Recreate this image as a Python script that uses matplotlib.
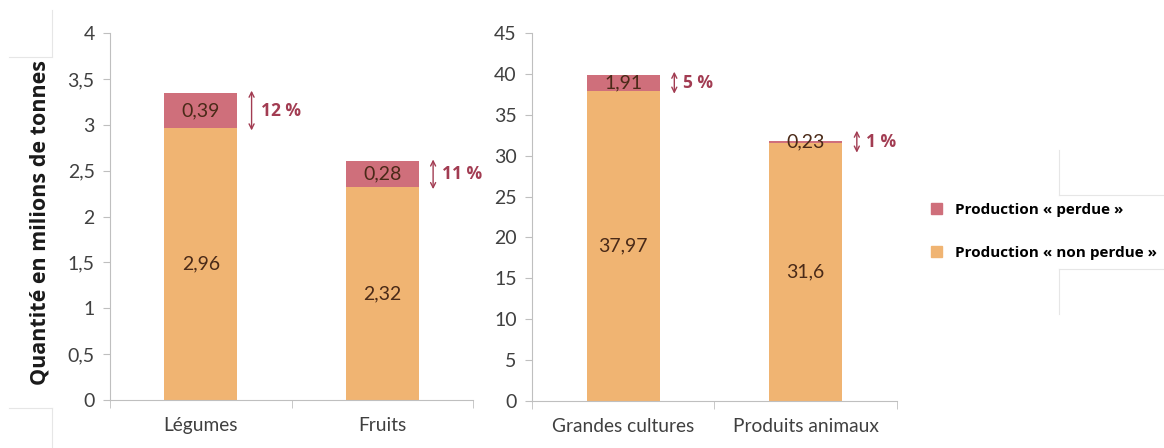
import matplotlib.pyplot as plt
from matplotlib.patches import Patch
from matplotlib.lines import Line2D

# Data (millions de tonnes)
cats_left = ["Légumes", "Fruits"]
non_perdue_left = [2.96, 2.32]
perdue_left = [0.39, 0.28]
pct_left = ["12 %", "11 %"]

cats_right = ["Grandes cultures", "Produits animaux"]
non_perdue_right = [37.97, 31.6]
perdue_right = [1.91, 0.23]
pct_right = ["5 %", "1 %"]

yticks_left = [0, 0.5, 1, 1.5, 2, 2.5, 3, 3.5, 4]
yticks_right = [0, 5, 10, 15, 20, 25, 30, 35, 40, 45]

col_lost = "#cf6f7b"
col_ok = "#f0b472"
col_val = "#4a2a18"
col_pct = "#a23c52"
col_axis = "#bfbfbf"
col_tick = "#404040"

plt.rcParams['font.family'] = ['Lato', 'DejaVu Sans']
BOLD = ['Open Sans', 'DejaVu Sans']

fig = plt.figure(figsize=(11.64, 4.48), dpi=100)
ax1 = fig.add_axes([0.0945, 0.1071, 0.3119, 0.8192])
ax2 = fig.add_axes([0.457, 0.1049, 0.3136, 0.8214])


def draw_panel(ax, cats, ok, lost, pct, yticks, ppu):
    x = list(range(len(cats)))
    ax.bar(x, ok, width=0.4, color=col_ok)
    ax.bar(x, lost, bottom=ok, width=0.4, color=col_lost)
    ax.set_xlim(-0.5, len(cats) - 0.5)
    ax.set_ylim(yticks[0], yticks[-1])
    ax.set_yticks(yticks)
    ax.set_yticklabels([str(t).replace(".", ",") for t in yticks])
    ax.set_xticks(x)
    ax.set_xticklabels(cats)
    ax.set_xticks([i - 0.5 for i in range(len(cats) + 1)], minor=True)
    ax.tick_params(axis="x", which="major", length=0, pad=12,
                   labelsize=13.8, labelcolor=col_tick)
    ax.tick_params(axis="x", which="minor", length=6, color=col_axis)
    ax.tick_params(axis="y", length=5, color=col_axis, labelsize=14,
                   labelcolor=col_tick, pad=6)
    for s in ["top", "right"]:
        ax.spines[s].set_visible(False)
    for s in ["left", "bottom"]:
        ax.spines[s].set_color(col_axis)

    for i in x:
        ax.text(i, ok[i] / 2, f"{ok[i]:g}".replace(".", ","), ha="center",
                va="center", fontsize=14, color=col_val)
        mid = ok[i] + lost[i] / 2
        ax.text(i, mid, f"{lost[i]:g}".replace(".", ","), ha="center",
                va="center", fontsize=14, color=col_val)
        # arrow a bit longer than the segment, never shorter than ~22 px
        half = max(lost[i] * ppu + 4, 22) / 2 / ppu
        ax.annotate("", xy=(i + 0.28, mid + half), xytext=(i + 0.28, mid - half),
                    arrowprops=dict(arrowstyle="<->", color=col_pct, lw=1.0,
                                    shrinkA=0, shrinkB=0, mutation_scale=9))
        ax.text(i + 0.33, mid, pct[i], ha="left", va="center", fontsize=12.5,
                fontweight="bold", family=BOLD, color=col_pct)


draw_panel(ax1, cats_left, non_perdue_left, perdue_left, pct_left, yticks_left, 367 / 4)
draw_panel(ax2, cats_right, non_perdue_right, perdue_right, pct_right, yticks_right, 368 / 45)

fig.text(0.034, 0.503, "Quantité en milions de tonnes", rotation=90, ha="center",
         va="center", fontsize=15.5, fontweight="bold", family=BOLD, color="#1a1a1a")

handles = [Patch(color=col_lost, label="Production « perdue »"),
           Patch(color=col_ok, label="Production « non perdue »")]
fig.legend(handles=handles, loc="center left", bbox_to_anchor=(0.788, 0.484),
           frameon=False, handlelength=0.75, handleheight=0.75, handletextpad=0.8,
           labelspacing=1.9, prop=dict(weight="bold", size=11, family=BOLD))

# faint frame fragments from the original screenshot
for xs, ys in [([0.045, 0.045], [0.977, 0.875]), ([0.008, 0.045], [0.873, 0.873]),
               ([0.008, 0.045], [0.089, 0.089]), ([0.045, 0.045], [0.089, 0.0]),
               ([0.91, 0.91], [0.665, 0.565]), ([0.91, 1.0], [0.565, 0.565]),
               ([0.91, 1.0], [0.40, 0.40]), ([0.91, 0.91], [0.40, 0.30])]:
    fig.add_artist(Line2D(xs, ys, color="#e6e6e6", lw=0.8))

fig.savefig("out.png", dpi=100)
